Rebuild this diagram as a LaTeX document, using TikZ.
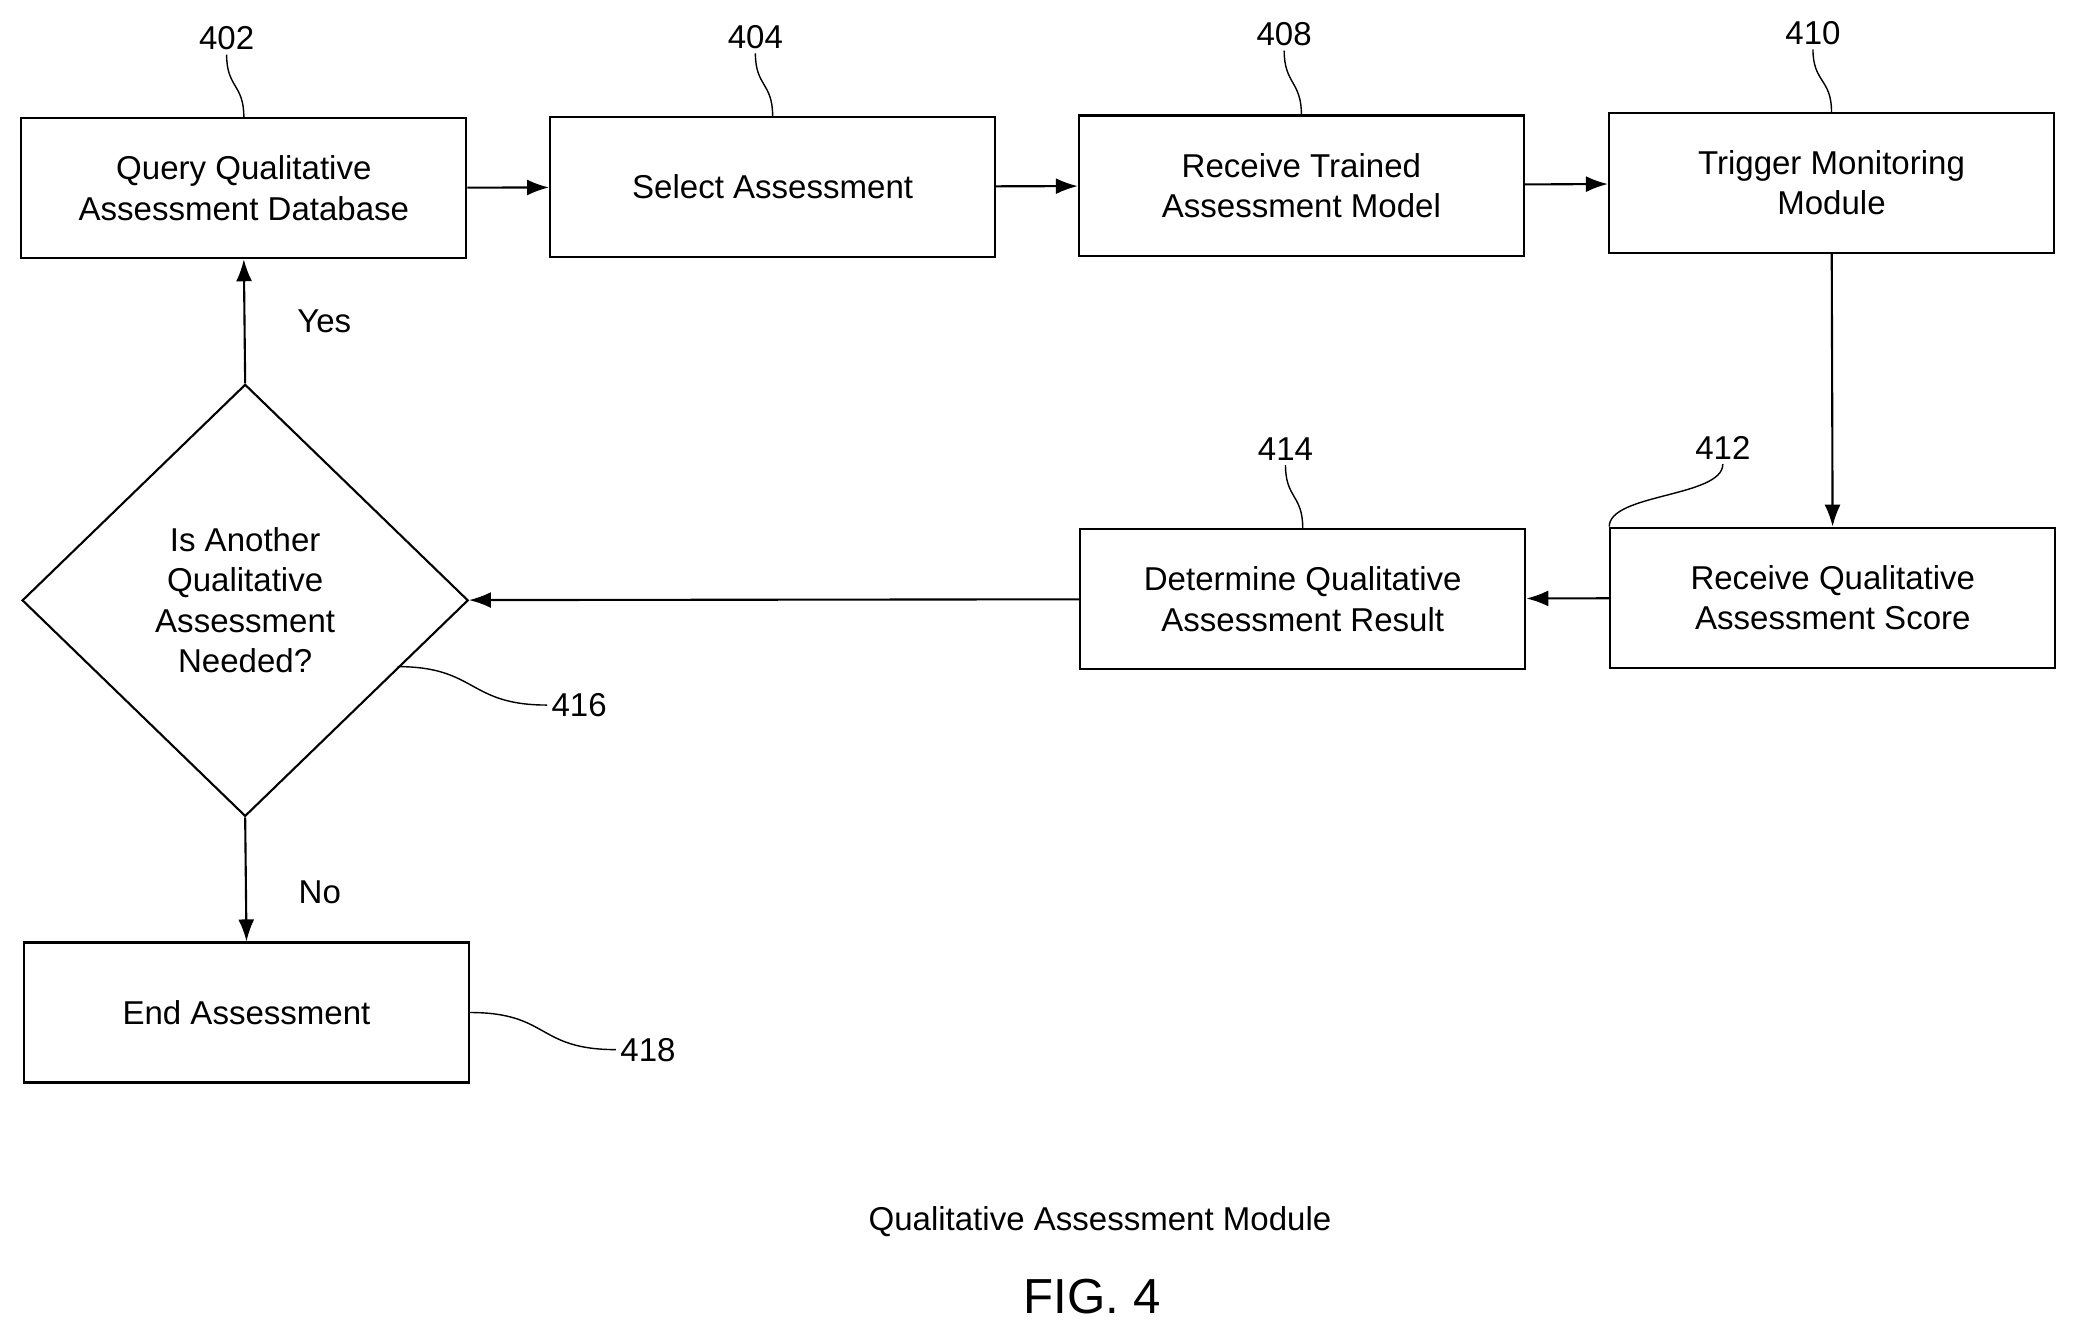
\documentclass[tikz,border=0pt]{standalone}
\usepackage{fontspec}
\setmainfont{Liberation Sans}
\usetikzlibrary{positioning, arrows.meta, shapes.geometric}
\begin{document}
\begin{tikzpicture}[
    x=0.1325mm, y=-0.1325mm,
    font=\fontsize{9.4}{11.5}\selectfont,
    line width=0.6pt,
    box/.style={rectangle, draw, minimum width=44.5mm, minimum height=14mm, align=center},
    dec/.style={diamond, draw, minimum width=44.6mm, minimum height=43.2mm, align=center, inner sep=0pt},
    ref/.style={inner sep=1pt},
    flow/.style={-{Latex[length=2.2mm, width=1.6mm]}},
    ]
   \useasboundingbox (0,0) rectangle (1568,1009);

   % Top row
   \node[box] (q402) at (184,142) {Query Qualitative\\Assessment Database};
   \node[box] (s404) at (583,141) {Select Assessment};
   \node[box] (r408) at (982,140) {Receive Trained\\Assessment Model};
   \node[box] (t410) at (1382,138) {Trigger Monitoring\\Module};

   % Middle row
   \node[box] (r412) at (1383,451) {Receive Qualitative\\Assessment Score};
   \node[box] (d414) at (983,452) {Determine Qualitative\\Assessment Result};
   \node[dec] (a416) at (185,453) {Is Another\\Qualitative\\Assessment\\Needed?};

   % Bottom
   \node[box] (e418) at (186,764) {End Assessment};

   % Reference numerals
   \node[ref] (l402) at (171,29) {402};
   \node[ref] (l404) at (570,28) {404};
   \node[ref] (l408) at (969,26) {408};
   \node[ref] (l410) at (1368,25) {410};
   \node[ref] (l414) at (970,339) {414};
   \node[ref] (l412) at (1300,338) {412};
   \node[ref] (l416) at (437,532) {416};
   \node[ref] (l418) at (489,792) {418};
   \coordinate (c416) at (300,503);

   \draw[thin] (l402.south) .. controls +(0,25) and +(0,-25) .. (q402.north);
   \draw[thin] (l404.south) .. controls +(0,25) and +(0,-25) .. (s404.north);
   \draw[thin] (l408.south) .. controls +(0,25) and +(0,-25) .. (r408.north);
   \draw[thin] (l410.south) .. controls +(0,25) and +(0,-25) .. (t410.north);
   \draw[thin] (l414.south) .. controls +(0,25) and +(0,-25) .. (d414.north);
   \draw[thin] (l412.south) .. controls +(0,25) and +(0,-25) .. (r412.north west);
   \draw[thin] (l416.west) .. controls +(-60,0) and +(60,0) .. (c416);
   \draw[thin] (l418.west) .. controls +(-60,0) and +(60,0) .. (e418.east);

   % Flow
   \draw[flow] (q402) -- (s404);
   \draw[flow] (s404) -- (r408);
   \draw[flow] (r408) -- (t410);
   \draw[flow] (t410) -- (r412);
   \draw[flow] (r412) -- (d414);
   \draw[flow] (d414) -- (a416);
   \draw[flow] (a416.north) -- node[right=4mm, pos=0.5] (yes) {Yes} (q402.south);
   \draw[flow] (a416.south) -- node[right=4mm, pos=0.6] (no) {No} (e418.north);

   % Caption
   \node (cap) at (830,922) {Qualitative Assessment Module};
   \node[font=\fontsize{14}{16}\selectfont] (fig) at (824,978) {FIG. 4};
\end{tikzpicture}
\end{document}
